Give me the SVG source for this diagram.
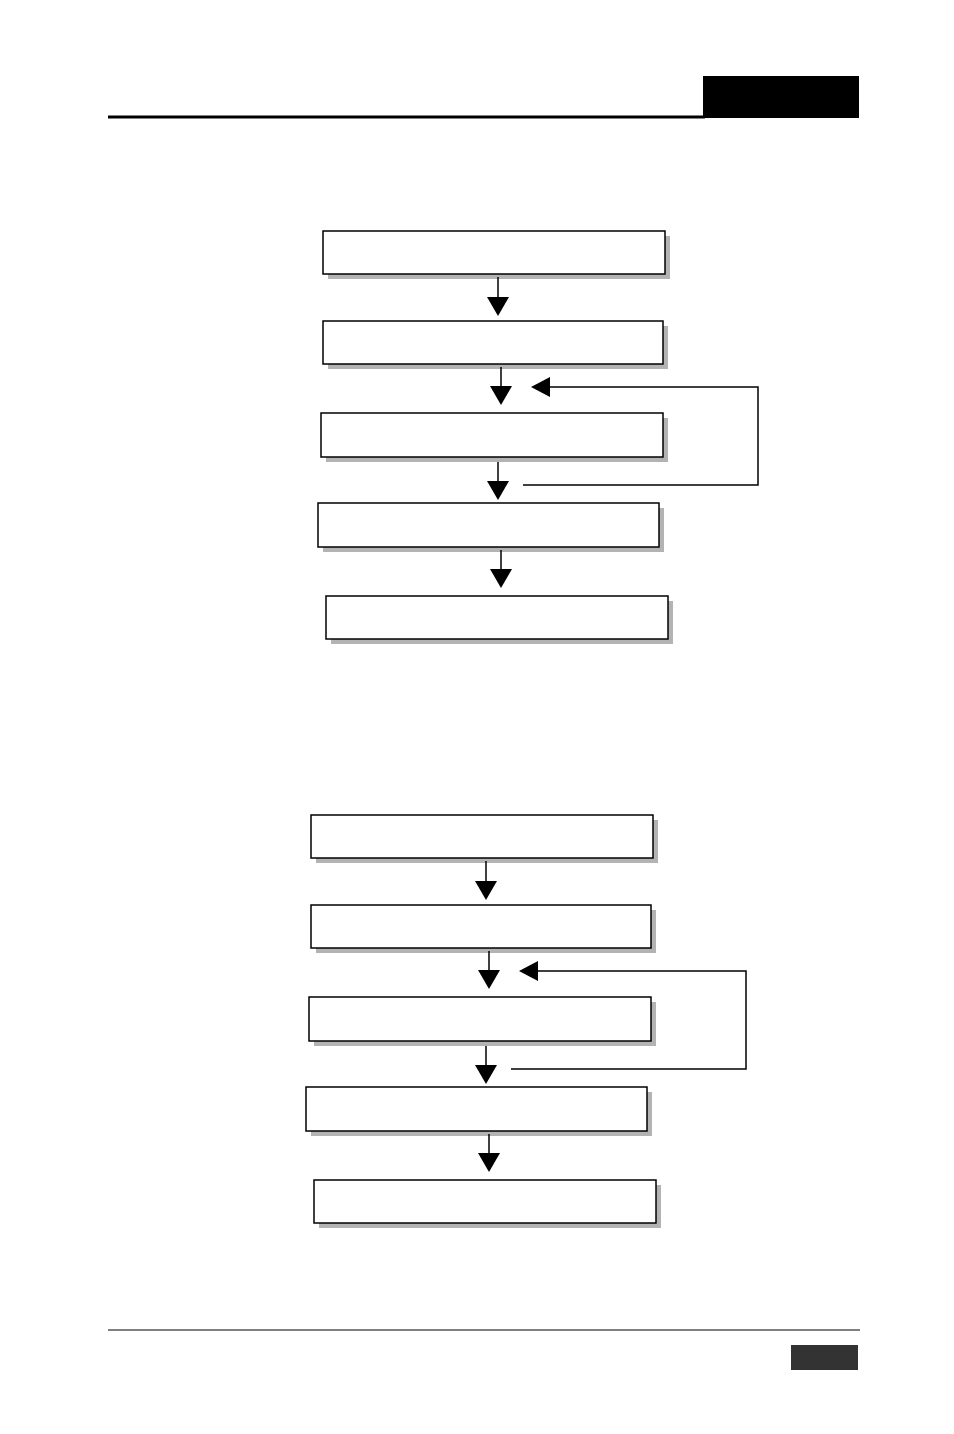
<svg xmlns="http://www.w3.org/2000/svg" width="954" height="1434" viewBox="0 0 954 1434">
<style>
.sh{fill:#b3b3b3}
.bx{fill:#fff;stroke:#000;stroke-width:1.5}
.ln{stroke:#000;stroke-width:1.5;fill:none}
.hd{fill:#000}
</style>
<defs>
<g id="flow">
<g id="n1"><rect class="sh" x="328" y="236" width="342" height="43"/><rect class="bx" x="323" y="231" width="342" height="43"/></g>
<g id="n2"><rect class="sh" x="328" y="326" width="340" height="43"/><rect class="bx" x="323" y="321" width="340" height="43"/></g>
<g id="n3"><rect class="sh" x="326" y="418" width="342" height="44"/><rect class="bx" x="321" y="413" width="342" height="44"/></g>
<g id="n4"><rect class="sh" x="323" y="508" width="341" height="44"/><rect class="bx" x="318" y="503" width="341" height="44"/></g>
<g id="n5"><rect class="sh" x="331" y="601" width="342" height="43"/><rect class="bx" x="326" y="596" width="342" height="43"/></g>
<g id="conn">
<line class="ln" x1="498" y1="277" x2="498" y2="300"/><polygon class="hd" points="487,297 509,297 498,316"/>
<line class="ln" x1="501" y1="367" x2="501" y2="388"/><polygon class="hd" points="490,386 512,386 501,405"/>
<line class="ln" x1="498" y1="462" x2="498" y2="483"/><polygon class="hd" points="487,481 509,481 498,500"/>
<line class="ln" x1="501" y1="550" x2="501" y2="571"/><polygon class="hd" points="490,569 512,569 501,588"/>
<polyline class="ln" points="523,485 758,485 758,387 548,387"/><polygon class="hd" points="531,387 550,377 550,397"/>
</g>
</g>
</defs>
<rect width="954" height="1434" fill="#fff"/>
<g id="header"><line x1="108" y1="117" x2="705" y2="117" stroke="#000" stroke-width="3"/><rect x="703" y="76" width="156" height="42" fill="#000"/></g>
<g id="flow-top"><use href="#flow"/></g>
<g id="flow-bottom"><use href="#flow" transform="translate(-12,584)"/></g>
<g id="footer"><line x1="108" y1="1330" x2="860" y2="1330" stroke="#000" stroke-width="1"/><rect x="791" y="1345" width="67" height="25" fill="#333"/></g>
</svg>
